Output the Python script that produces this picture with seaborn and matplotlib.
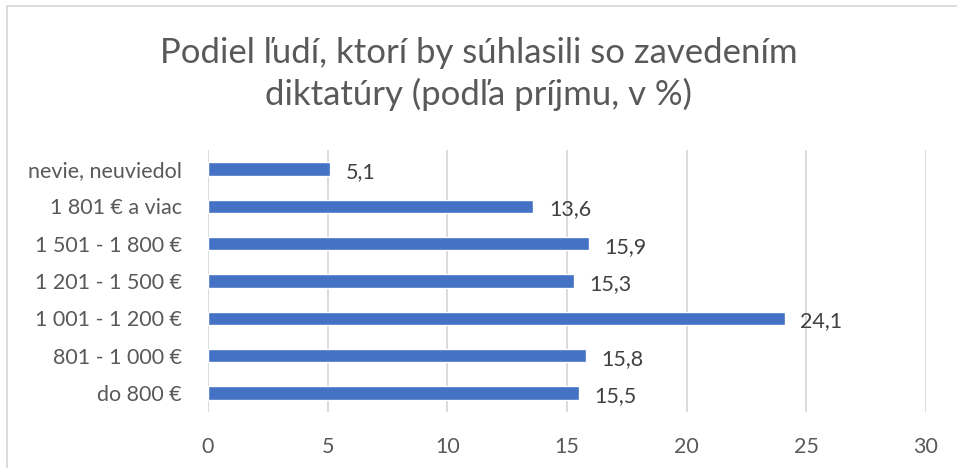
import seaborn as sns
import pandas as pd
import matplotlib.pyplot as plt
from matplotlib.lines import Line2D

categories = ['nevie, neuviedol', '1 801 € a viac', '1 501 - 1 800 €', '1 201 - 1 500 €',
              '1 001 - 1 200 €', '801 - 1 000 €', 'do 800 €']
values = [5.1, 13.6, 15.9, 15.3, 24.1, 15.8, 15.5]
xticks = [0, 5, 10, 15, 20, 25, 30]
title = 'Podiel ľudí, ktorí by súhlasili so zavedením\ndiktatúry (podľa príjmu, v %)'

data = pd.DataFrame({'kategoria': categories, 'podiel': values})

sns.set_style('white')
plt.rcParams['font.family'] = ['Lato', 'DejaVu Sans']

fig = plt.figure(figsize=(9.57, 4.68), dpi=100)
ax = fig.add_axes([0.2173, 0.1203, 0.7503, 0.5585])

sns.barplot(data=data, y='kategoria', x='podiel', orient='h', color='#4472C4',
            saturation=1, width=0.35, ax=ax)

ax.set_xlim(0, 30)
ax.set_xticks(xticks)
ax.set_xticklabels([str(t) for t in xticks])
ax.grid(axis='x', color='#D9D9D9', linewidth=1.3)
ax.set_axisbelow(True)
for s in ax.spines.values():
    s.set_visible(False)
ax.set_xlabel('')
ax.set_ylabel('')
ax.tick_params(axis='both', length=0, labelsize=15.5, labelcolor='#595959')
ax.tick_params(axis='x', pad=18)
ax.tick_params(axis='y', pad=19)

for i, v in enumerate(values):
    ax.text(v + 0.65, i + 0.08, f'{v:.1f}'.replace('.', ','), va='center', ha='left',
            fontsize=15.5, color='#404040')

fig.text(0.5, 0.842, title, ha='center', va='center', fontsize=25, color='#595959',
         linespacing=1.35)

# chart border (only left and top visible in the crop)
fig.add_artist(Line2D([7 / 957, 7 / 957], [0, 1 - 6 / 468], transform=fig.transFigure,
                      color='#D9D9D9', linewidth=1.3))
fig.add_artist(Line2D([7 / 957, 1], [1 - 6 / 468, 1 - 6 / 468], transform=fig.transFigure,
                      color='#D9D9D9', linewidth=1.3))

plt.savefig('out.png', dpi=100)
